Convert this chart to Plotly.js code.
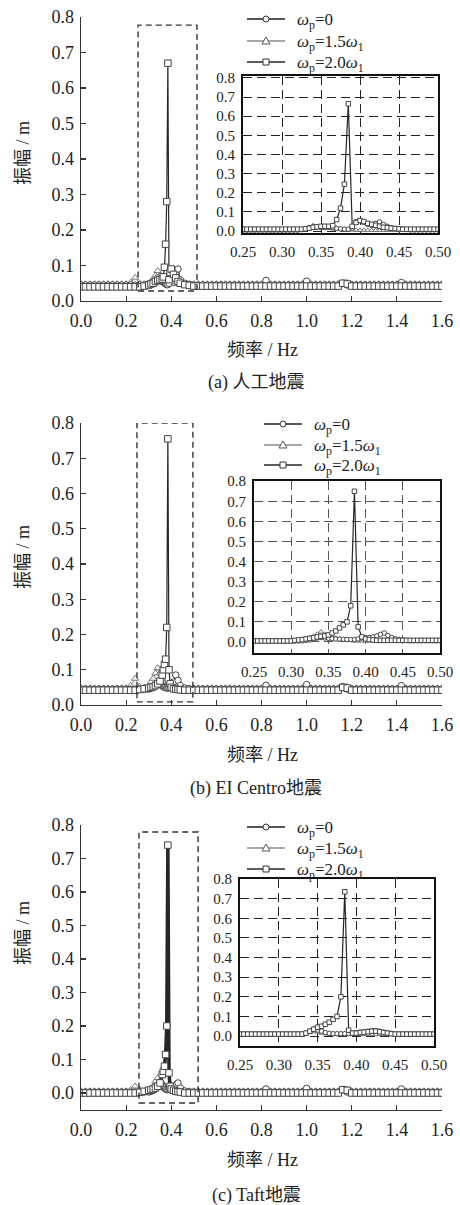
<!DOCTYPE html>
<html><head><meta charset="utf-8">
<script src="https://cdn.plot.ly/plotly-3.0.1.min.js"></script>
<style>html,body{margin:0;padding:0;background:#fff}#chart{width:460px;height:1205px}</style>
</head><body><div id="chart"></div>
<script>
// ---------- labels ----------
const seriesNames = ['<i>ω</i><sub>p</sub>=0', '<i>ω</i><sub>p</sub>=1.5<i>ω</i><sub>1</sub>', '<i>ω</i><sub>p</sub>=2.0<i>ω</i><sub>1</sub>'];
const captions = ['(a) 人工地震', '(b) EI Centro地震', '(c) Taft地震'];
const xTitleText = '频率 / Hz';
const yTitleText = '振幅 / m';

// ---------- frequencies ----------
const mainFreq = [0,0.02,0.04,0.06,0.08,0.10,0.12,0.14,0.16,0.18,0.20,0.22,0.24,0.26,0.28,0.30,
 0.31,0.32,0.33,0.34,0.35,0.36,
 0.365,0.37,0.375,0.38,0.385,0.39,0.395,
 0.40,0.41,0.42,0.43,0.44,
 0.46,0.48,0.50,0.52,0.54,0.56,0.58,0.60,0.62,0.64,
 0.66,0.68,0.70,0.72,0.74,0.76,0.78,0.80,0.82,0.84,
 0.86,0.88,0.90,0.92,0.94,0.96,0.98,1.00,1.02,1.04,
 1.06,1.08,1.10,1.12,1.14,1.16,1.18,1.20,1.22,1.24,
 1.26,1.28,1.30,1.32,1.34,1.36,1.38,1.40,1.42,1.44,
 1.46,1.48,1.50,1.52,1.54,1.56,1.58,1.60];
const insetFreq = [0.25,0.255,0.26,0.265,0.27,0.275,0.28,0.285,0.29,0.295,
 0.30,0.305,0.31,0.315,0.32,0.325,0.33,0.335,0.34,0.345,
 0.35,0.355,0.36,0.365,0.37,0.375,0.38,0.385,0.39,0.395,
 0.40,0.405,0.41,0.415,0.42,0.425,0.43,0.435,0.44,0.445,
 0.45,0.455,0.46,0.465,0.47,0.475,0.48,0.485,0.49,0.495,0.50];

// ---------- (a) artificial wave : main plot ----------
const aMainW0 = [0.045,0.045,0.045,0.045,0.045,0.045,0.045,0.045,0.045,0.045,0.045,0.045,0.045,0.045,0.045,0.048,
 0.05,0.052,0.055,0.065,0.06,0.055,
 0.055,0.05,0.048,0.046,0.046,0.05,0.075,
 0.085,0.07,0.08,0.09,0.06,
 0.05,0.047,0.045,0.045,0.045,0.045,0.045,0.045,0.045,0.045,
 0.045,0.045,0.045,0.045,0.045,0.045,0.045,0.045,0.058,0.045,
 0.045,0.045,0.045,0.045,0.045,0.045,0.045,0.056,0.045,0.045,
 0.045,0.045,0.045,0.045,0.045,0.05,0.045,0.045,0.045,0.045,
 0.045,0.045,0.045,0.045,0.045,0.045,0.045,0.045,0.052,0.045,
 0.045,0.045,0.045,0.045,0.045,0.045,0.045,0.045];
const aMainW15 = [0.048,0.048,0.048,0.048,0.048,0.048,0.048,0.048,0.048,0.048,0.048,0.052,0.066,0.05,0.048,0.05,
 0.055,0.062,0.072,0.085,0.07,0.062,
 0.058,0.055,0.052,0.05,0.05,0.05,0.05,
 0.05,0.049,0.048,0.048,0.048,
 0.048,0.048,0.048,0.048,0.048,0.048,0.048,0.048,0.048,0.048,
 0.048,0.048,0.048,0.048,0.048,0.048,0.048,0.048,0.053,0.048,
 0.048,0.048,0.048,0.048,0.048,0.048,0.048,0.048,0.048,0.048,
 0.048,0.048,0.048,0.048,0.048,0.048,0.052,0.048,0.048,0.048,
 0.048,0.048,0.048,0.048,0.048,0.048,0.048,0.048,0.048,0.048,
 0.048,0.048,0.048,0.048,0.048,0.048,0.048,0.048];
const aMainW20 = [0.04,0.04,0.04,0.04,0.04,0.04,0.04,0.04,0.04,0.04,0.04,0.04,0.04,0.04,0.042,0.045,
 0.048,0.05,0.055,0.058,0.06,0.062,
 0.068,0.095,0.16,0.28,0.67,0.06,0.08,
 0.09,0.075,0.065,0.055,0.05,
 0.046,0.044,0.042,0.042,0.042,0.042,0.042,0.042,0.042,0.042,
 0.042,0.042,0.042,0.042,0.042,0.042,0.042,0.042,0.042,0.042,
 0.042,0.042,0.042,0.042,0.042,0.042,0.042,0.042,0.042,0.042,
 0.042,0.042,0.042,0.042,0.042,0.05,0.048,0.042,0.042,0.042,
 0.042,0.042,0.042,0.042,0.042,0.042,0.042,0.042,0.042,0.042,
 0.042,0.042,0.042,0.042,0.042,0.042,0.042,0.042];
// (a) inset
const aInsetW0 = [0.005,0.005,0.005,0.005,0.005,0.005,0.005,0.005,0.005,0.005,0.005,0.005,0.005,0.005,0.005,
 0.008,0.012,0.018,0.022,0.02,0.018,0.018,0.02,0.018,0.015,0.012,0.01,0.01,0.015,0.05,0.055,0.045,0.035,0.03,0.04,0.048,0.035,0.025,0.018,0.014,0.012,0.01,0.008,
 0.006,0.006,0.006,0.006,0.006,0.006,0.006,0.006];
const aInsetW15 = [0.003,0.003,0.003,0.003,0.003,0.003,0.003,0.003,0.003,0.003,0.003,0.003,0.003,0.003,0.003,
 0.006,0.012,0.02,0.03,0.025,0.02,0.018,0.015,0.012,0.01,0.008,0.007,0.006,0.006,0.005,0.005,
 0.004,0.004,0.004,0.004,0.004,0.004,0.004,0.004,0.004,0.004,0.004,0.004,0.004,0.004,0.004,0.004,0.004,0.004,0.004,0.004];
const aInsetW20 = [0.01,0.01,0.01,0.01,0.01,0.01,0.01,0.01,0.01,0.01,0.01,0.01,0.01,0.01,0.01,0.01,
 0.012,0.015,0.02,0.022,0.025,0.025,0.025,0.028,0.06,0.12,0.245,0.665,0.025,0.045,0.055,0.05,0.04,0.035,0.03,0.025,0.02,0.018,0.015,0.013,0.012,
 0.01,0.01,0.01,0.01,0.01,0.01,0.01,0.01,0.01,0.01];

// ---------- (b) El Centro : main plot ----------
const bMainW0 = [0.045,0.045,0.045,0.045,0.045,0.045,0.045,0.045,0.045,0.045,0.045,0.045,0.045,0.045,0.045,0.045,
 0.048,0.05,0.055,0.06,0.058,0.055,
 0.052,0.05,0.05,0.048,0.048,0.05,0.055,
 0.06,0.065,0.085,0.07,0.055,
 0.048,0.046,0.045,0.045,0.045,0.045,0.045,0.045,0.045,0.045,
 0.045,0.045,0.045,0.045,0.045,0.045,0.045,0.045,0.056,0.045,
 0.045,0.045,0.045,0.045,0.045,0.045,0.045,0.058,0.045,0.045,
 0.045,0.045,0.045,0.045,0.045,0.052,0.045,0.045,0.045,0.045,
 0.045,0.045,0.045,0.045,0.045,0.045,0.045,0.045,0.055,0.045,
 0.045,0.045,0.045,0.045,0.045,0.045,0.045,0.045];
const bMainW15 = [0.048,0.048,0.048,0.048,0.048,0.048,0.048,0.048,0.048,0.048,0.048,0.055,0.075,0.052,0.05,0.055,
 0.065,0.075,0.09,0.105,0.09,0.075,
 0.065,0.06,0.055,0.052,0.05,0.05,0.05,
 0.05,0.049,0.048,0.048,0.048,
 0.048,0.048,0.048,0.048,0.048,0.048,0.048,0.048,0.048,0.048,
 0.048,0.048,0.048,0.048,0.048,0.048,0.048,0.048,0.054,0.048,
 0.048,0.048,0.048,0.048,0.048,0.048,0.048,0.048,0.048,0.048,
 0.048,0.048,0.048,0.048,0.048,0.048,0.052,0.048,0.048,0.048,
 0.048,0.048,0.048,0.048,0.048,0.048,0.048,0.048,0.048,0.048,
 0.048,0.048,0.048,0.048,0.048,0.048,0.048,0.048];
const bMainW20 = [0.042,0.042,0.042,0.042,0.042,0.042,0.042,0.042,0.042,0.042,0.042,0.042,0.042,0.044,0.046,0.048,
 0.05,0.052,0.055,0.06,0.068,0.085,
 0.1,0.115,0.13,0.22,0.755,0.1,0.06,
 0.05,0.046,0.045,0.044,0.043,
 0.042,0.042,0.042,0.042,0.042,0.042,0.042,0.042,0.042,0.042,
 0.042,0.042,0.042,0.042,0.042,0.042,0.042,0.042,0.042,0.042,
 0.042,0.042,0.042,0.042,0.042,0.042,0.042,0.042,0.042,0.042,
 0.042,0.042,0.042,0.042,0.042,0.05,0.048,0.042,0.042,0.042,
 0.042,0.042,0.042,0.042,0.042,0.042,0.042,0.042,0.042,0.042,
 0.042,0.042,0.042,0.042,0.042,0.042,0.042,0.042];
// (b) inset
const bInsetW0 = [0.005,0.005,0.005,0.005,0.005,0.005,0.005,0.005,0.005,0.005,0.005,0.005,0.005,0.005,
 0.008,0.01,0.015,0.02,0.022,0.02,0.018,0.016,0.015,0.014,0.013,0.012,0.012,0.012,0.015,0.02,0.022,0.022,0.025,0.03,0.038,0.045,0.032,0.022,0.016,0.012,0.01,0.008,
 0.006,0.006,0.006,0.006,0.006,0.006,0.006,0.006,0.006];
const bInsetW15 = [0.004,0.004,0.004,0.004,0.004,0.004,0.004,0.004,0.004,0.004,0.004,
 0.006,0.008,0.012,0.016,0.022,0.03,0.04,0.05,0.04,0.03,0.025,0.02,0.016,0.013,0.01,0.008,
 0.005,0.005,0.005,0.005,0.005,0.005,0.005,0.005,0.005,0.005,0.005,0.005,0.005,0.005,0.005,0.005,0.005,0.005,0.005,0.005,0.005,0.005,0.005,0.005];
const bInsetW20 = [0.005,0.005,0.005,0.005,0.005,0.005,0.005,0.005,0.005,0.005,0.005,
 0.008,0.01,0.012,0.015,0.018,0.02,0.025,0.028,0.03,0.035,0.045,0.055,0.07,0.085,0.1,0.18,0.75,0.075,0.025,0.015,0.012,0.01,
 0.008,0.008,0.008,0.008,0.008,0.008,0.008,0.008,0.008,0.008,0.008,0.008,0.008,0.008,0.008,0.008,0.008,0.008];

// ---------- (c) Taft : main plot ----------
const cMainW0 = [0.003,0.003,0.003,0.003,0.003,0.003,0.003,0.003,0.003,0.003,0.003,0.003,0.003,0.003,0.003,0.003,
 0.005,0.008,0.012,0.02,0.03,0.025,
 0.02,0.015,0.012,0.01,0.01,0.012,0.015,
 0.018,0.02,0.025,0.03,0.015,
 0.006,0.004,0.003,0.003,0.003,0.003,0.003,0.003,0.003,0.003,
 0.003,0.003,0.003,0.003,0.003,0.003,0.003,0.003,0.012,0.003,
 0.003,0.003,0.003,0.003,0.003,0.003,0.003,0.014,0.003,0.003,
 0.003,0.003,0.003,0.003,0.003,0.01,0.003,0.003,0.003,0.003,
 0.003,0.003,0.003,0.003,0.003,0.003,0.003,0.003,0.012,0.003,
 0.003,0.003,0.003,0.003,0.003,0.003,0.003,0.003];
const cMainW15 = [0.006,0.006,0.006,0.006,0.006,0.006,0.006,0.006,0.006,0.006,0.006,0.01,0.02,0.01,0.006,0.008,
 0.012,0.02,0.035,0.045,0.035,0.025,
 0.02,0.015,0.012,0.01,0.008,0.008,0.007,
 0.006,0.006,0.006,0.006,0.006,
 0.006,0.006,0.006,0.006,0.006,0.006,0.006,0.006,0.006,0.006,
 0.006,0.006,0.006,0.006,0.006,0.006,0.006,0.006,0.012,0.006,
 0.006,0.006,0.006,0.006,0.006,0.006,0.006,0.006,0.006,0.006,
 0.006,0.006,0.006,0.006,0.006,0.006,0.01,0.006,0.006,0.006,
 0.006,0.006,0.006,0.006,0.006,0.006,0.006,0.006,0.006,0.006,
 0.006,0.006,0.006,0.006,0.006,0.006,0.006,0.006];
const cMainW20 = [0,0,0,0,0,0,0,0,0,0,0,0,0,0.002,0.005,0.008,
 0.01,0.012,0.015,0.02,0.03,0.055,
 0.065,0.08,0.115,0.2,0.74,0.06,0.02,
 0.012,0.008,0.005,0.004,0.003,
 0,0,0,0,0,0,0,0,0,0,
 0,0,0,0,0,0,0,0,0,0,
 0,0,0,0,0,0,0,0,0,0,
 0,0,0,0,0,0.01,0.008,0,0,0,
 0,0,0,0,0,0,0,0,0,0,
 0,0,0,0,0,0,0,0];
// (c) inset
const cInsetW0 = [0.01,0.01,0.01,0.01,0.01,0.01,0.01,0.01,0.01,0.01,0.01,0.01,0.01,0.01,0.01,0.01,0.01,
 0.015,0.025,0.035,0.03,0.025,0.018,0.014,0.012,0.012,0.012,0.012,0.013,0.015,0.018,0.02,0.022,0.025,0.028,0.028,0.025,0.02,0.016,0.013,
 0.01,0.01,0.01,0.01,0.01,0.01,0.01,0.01,0.01,0.01,0.01];
const cInsetW15 = [0.008,0.008,0.008,0.008,0.008,0.008,0.008,0.008,0.008,0.008,0.008,0.008,0.008,0.008,0.008,0.008,0.008,
 0.012,0.018,0.025,0.02,0.015,0.012,0.01,
 0.008,0.008,0.008,0.008,0.008,0.008,0.008,0.008,0.008,0.008,0.008,0.008,0.008,0.008,0.008,0.008,0.008,0.008,0.008,0.008,0.008,0.008,0.008,0.008,0.008,0.008,0.008];
const cInsetW20 = [0.01,0.01,0.01,0.01,0.01,0.01,0.01,0.01,0.01,0.01,0.01,0.01,0.01,0.01,0.01,0.01,0.01,
 0.015,0.025,0.035,0.045,0.05,0.06,0.07,0.085,0.1,0.2,0.735,0.03,0.015,0.015,0.018,0.02,0.022,0.025,0.025,0.022,0.018,0.015,0.012,
 0.01,0.01,0.01,0.01,0.01,0.01,0.01,0.01,0.01,0.01,0.01];

// ---------- styling / layout ----------
const W = 460, H = 1205;
const SERIF = '"Liberation Serif", "DejaVu Serif", serif';
const CJK = '"Liberation Serif", "Noto Sans CJK SC", serif';
const px = v => v / W;            // horizontal pixel -> paper
const py = v => 1 - v / H;        // vertical pixel -> paper

const panels = [
  {main:[aMainW0,aMainW15,aMainW20], inset:[aInsetW0,aInsetW15,aInsetW20],
   mx:[81,442], my:[17,301], mrange:[0,0.8],
   ix:[243,438], iy:[76,233], irange:[-0.01,0.81],
   rect:[0.253,0.514,0.028,0.777],
   legX:247, legRows:[19,41,62], ytitle:153, xtitle:350, cap:382, spikeW:1.2, gridColor:'#222'},
  {main:[bMainW0,bMainW15,bMainW20], inset:[bInsetW0,bInsetW15,bInsetW20],
   mx:[81,442], my:[423,705], mrange:[0,0.8],
   ix:[254,440], iy:[481,653], irange:[-0.055,0.801],
   rect:[0.248,0.496,0.009,0.80],
   legX:264, legRows:[424,445,465], ytitle:557, xtitle:755, cap:788, spikeW:1.2, gridColor:'#555'},
  {main:[cMainW0,cMainW15,cMainW20], inset:[cInsetW0,cInsetW15,cInsetW20],
   mx:[81,442], my:[825,1110], mrange:[-0.0507,0.8],
   ix:[240,434], iy:[879,1046], irange:[-0.0506,0.8],
   rect:[0.257,0.519,-0.03,0.779],
   legX:247, legRows:[827,848,869], ytitle:933, xtitle:1160, cap:1195, spikeW:3.5, gridColor:'#222'}
];

const seriesStyle = [
  {symbol:'circle', line:'#1e1e1e', mline:'#444', lw:1},
  {symbol:'triangle-up', line:'#8a8a8a', mline:'#7a7a7a', lw:1},
  {symbol:'square', line:'#262626', mline:'#444', lw:1.2}
];
const drawOrder = [1, 0, 2];

const data = [];
const layout = {
  width: W, height: H, margin:{l:0,r:0,t:0,b:0},
  paper_bgcolor:'#fff', plot_bgcolor:'rgba(0,0,0,0)',
  font:{family:SERIF, color:'#222', size:16},
  showlegend:false, shapes:[], annotations:[]
};

panels.forEach((p, k) => {
  const mi = 2*k + 1, ii = 2*k + 2;
  const mxName = mi === 1 ? 'x' : 'x' + mi, myName = mi === 1 ? 'y' : 'y' + mi;
  const ixName = 'x' + ii, iyName = 'y' + ii;

  drawOrder.forEach(s => {
    const st = seriesStyle[s];
    data.push({
      type:'scatter', mode:'lines+markers', x: mainFreq, y: p.main[s],
      xaxis: mxName, yaxis: myName, name: seriesNames[s],
      line:{color: st.line, width: (s === 2 ? p.spikeW : st.lw)},
      marker:{symbol: st.symbol, size: 6.5, color:'#fff', line:{color: st.mline, width:1}},
      hoverinfo:'skip'
    });
  });
  drawOrder.forEach(s => {
    const st = seriesStyle[s];
    data.push({
      type:'scatter', mode:'lines+markers', x: insetFreq, y: p.inset[s],
      xaxis: ixName, yaxis: iyName, name: seriesNames[s],
      line:{color: st.line, width: st.lw},
      marker:{symbol: st.symbol, size: 4.5, color:'#fff', line:{color: st.mline, width:1}},
      hoverinfo:'skip'
    });
  });

  // main axes
  layout['xaxis' + (mi === 1 ? '' : mi)] = {
    domain:[px(p.mx[0]), px(p.mx[1])], range:[0,1.6], anchor: myName,
    tick0:0, dtick:0.2, tickformat:'.1f', ticks:'inside', ticklen:5, tickwidth:1.2, tickcolor:'#333',
    showline:true, linecolor:'#333', linewidth:1.4, showgrid:false, zeroline:false,
    tickfont:{family:SERIF, size:18, color:'#222'}, ticklabelstandoff:3
  };
  layout['yaxis' + mi] = {
    domain:[py(p.my[1]), py(p.my[0])], range:p.mrange, anchor: mxName,
    tick0:0, dtick:0.1, tickformat:'.1f', ticks:'inside', ticklen:5, tickwidth:1.2, tickcolor:'#333',
    showline:true, linecolor:'#333', linewidth:1.4, showgrid:false, zeroline:false,
    tickfont:{family:SERIF, size:18, color:'#222'}, ticklabelstandoff:2
  };
  // inset axes
  const gd = '9px,5px';
  layout['xaxis' + ii] = {
    domain:[px(p.ix[0]), px(p.ix[1])], range:[0.25,0.5], anchor: iyName,
    tick0:0.25, dtick:0.05, tickformat:'.2f', ticks:'',
    showline:true, mirror:true, linecolor:'#111', linewidth:2,
    showgrid:true, gridcolor:p.gridColor, gridwidth:1, griddash:gd, zeroline:false,
    tickfont:{family:SERIF, size:15, color:'#222'}, ticklabelstandoff:4
  };
  layout['yaxis' + ii] = {
    domain:[py(p.iy[1]), py(p.iy[0])], range:p.irange, anchor: ixName,
    tick0:0, dtick:0.1, tickformat:'.1f', ticks:'',
    showline:true, mirror:true, linecolor:'#111', linewidth:2,
    showgrid:true, gridcolor:p.gridColor, gridwidth:1, griddash:gd, zeroline:false,
    tickfont:{family:SERIF, size:15, color:'#222'}, ticklabelstandoff:3
  };

  // legend (key lines + symbols + text, positioned in pixels)
  p.legRows.forEach((ry, s) => {
    const st = seriesStyle[s];
    const x0 = p.legX, x1 = p.legX + 38, cx = p.legX + 19, r = 3;
    layout.shapes.push({type:'line', xref:'paper', yref:'paper',
      x0:px(x0), x1:px(x1), y0:py(ry), y1:py(ry), line:{color: st.line, width:1.4}});
    if (s === 0) {
      layout.shapes.push({type:'circle', xref:'paper', yref:'paper',
        x0:px(cx - r), x1:px(cx + r), y0:py(ry + r), y1:py(ry - r),
        fillcolor:'#fff', line:{color:'#333', width:1}});
    } else if (s === 1) {
      layout.shapes.push({type:'path', xref:'paper', yref:'paper',
        path:'M' + px(cx - 4) + ',' + py(ry + 3) + ' L' + px(cx + 4) + ',' + py(ry + 3) + ' L' + px(cx) + ',' + py(ry - 4) + ' Z',
        fillcolor:'#fff', line:{color:'#555', width:1}});
    } else {
      layout.shapes.push({type:'rect', xref:'paper', yref:'paper',
        x0:px(cx - r), x1:px(cx + r), y0:py(ry + r), y1:py(ry - r),
        fillcolor:'#fff', line:{color:'#333', width:1}});
    }
    layout.annotations.push({xref:'paper', yref:'paper', x:px(x1 + 10), y:py(ry),
      xanchor:'left', yanchor:'middle', yshift:-2, text:seriesNames[s], showarrow:false,
      font:{family:SERIF, size:17, color:'#222'}});
  });

  // dashed zoom box
  layout.shapes.push({type:'rect', xref:mxName, yref:myName,
    x0:p.rect[0], x1:p.rect[1], y0:p.rect[2], y1:p.rect[3],
    line:{color:'#333', width:1.4, dash:'6px,4px'}, layer:'above'});

  // titles and caption
  layout.annotations.push(
    {xref:'paper', yref:'paper', x:px(23), y:py(p.ytitle), xanchor:'center', yanchor:'middle',
     text:yTitleText, textangle:-90, showarrow:false, font:{family:CJK, size:18, color:'#222'}},
    {xref:'paper', yref:'paper', x:px(262), y:py(p.xtitle), xanchor:'center', yanchor:'middle',
     text:xTitleText, showarrow:false, font:{family:CJK, size:18, color:'#222'}},
    {xref:'paper', yref:'paper', x:px(256), y:py(p.cap), xanchor:'center', yanchor:'middle',
     text:captions[k], showarrow:false, font:{family:CJK, size:18, color:'#222'}}
  );
});

Plotly.newPlot('chart', data, layout, {staticPlot:true, displayModeBar:false});
</script></body></html>
